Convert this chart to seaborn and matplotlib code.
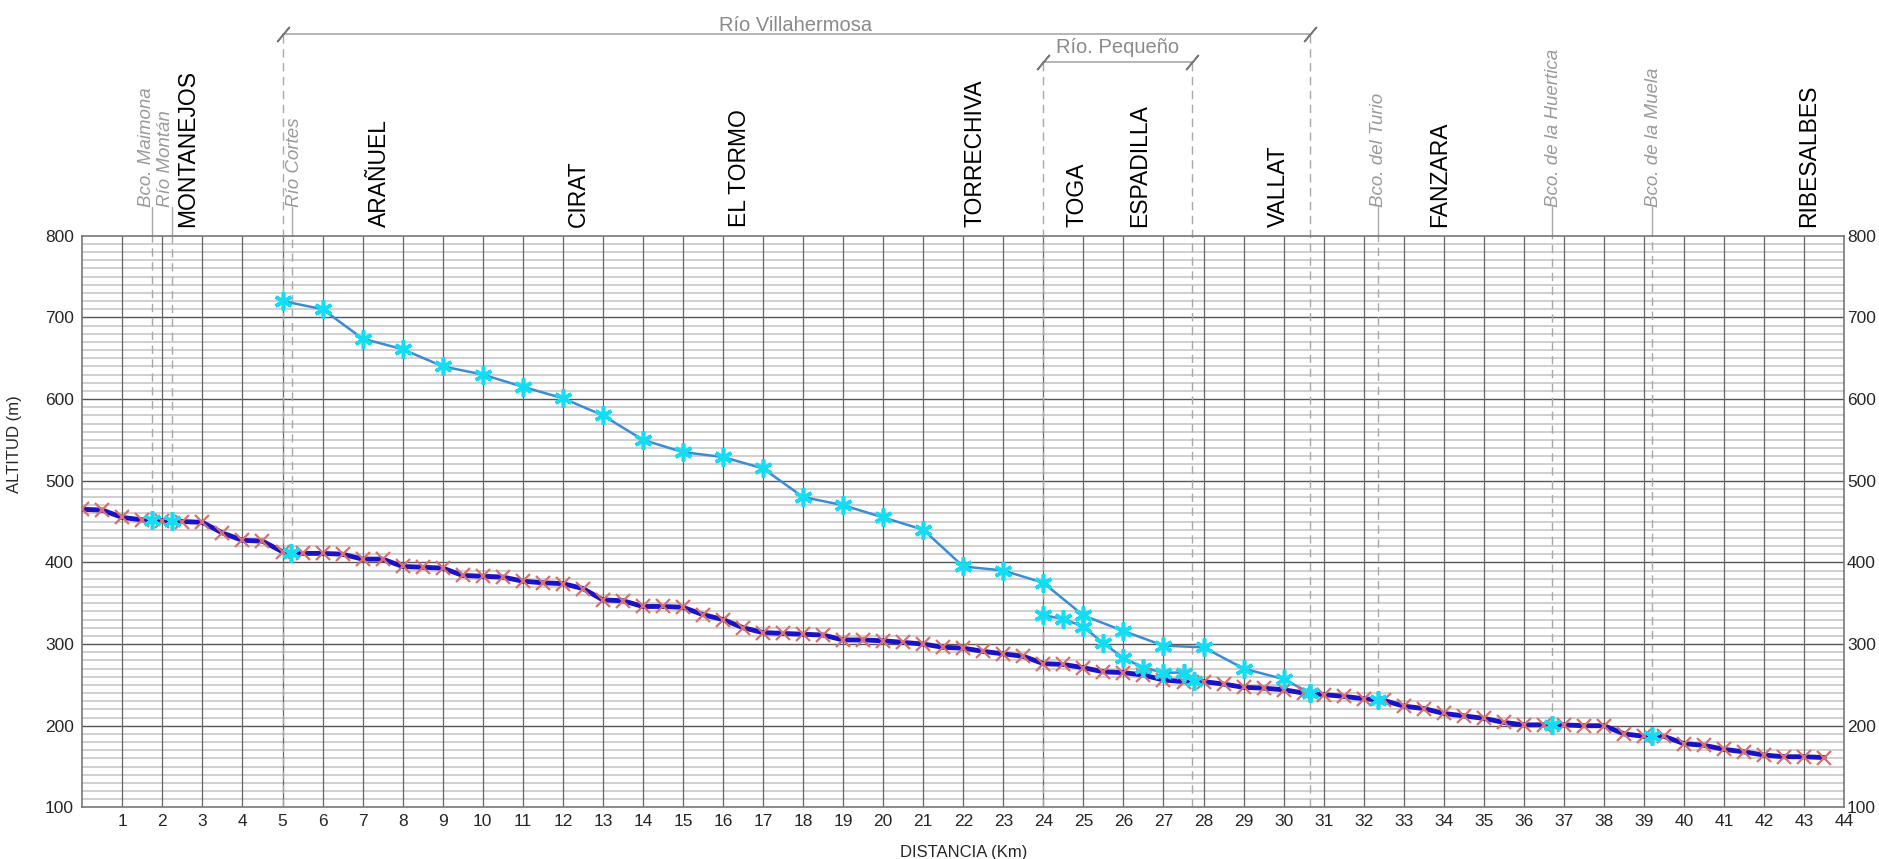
import matplotlib
matplotlib.use('Agg')

import numpy as np
import matplotlib.pyplot as plt
import matplotlib.transforms as mtransforms
import seaborn as sns

# main river (Mijares) profile, every 0.5 km
km_main = [i * 0.5 for i in range(88)]
alt_main = [465, 464, 455, 452, 451, 450, 449, 436, 427, 426,
            413, 411, 411, 410, 404, 404, 395, 394, 393, 384,
            383, 382, 377, 375, 374, 368, 354, 353, 346, 346,
            345, 336, 330, 320, 314, 313, 312, 311, 305, 305,
            304, 302, 300, 296, 295, 291, 288, 285, 276, 275,
            271, 266, 265, 262, 256, 254, 254, 251, 247, 246,
            244, 240, 238, 236, 233, 231, 224, 221, 215, 212,
            209, 204, 201, 201, 201, 200, 200, 190, 187, 187,
            178, 176, 171, 168, 164, 162, 162, 161]

# Río Villahermosa
km_villa = [5, 6, 7, 8, 9, 10, 11, 12, 13, 14, 15, 16, 17, 18, 19,
            20, 21, 22, 23, 24, 25, 26, 27, 28, 29, 30, 30.66]
alt_villa = [720, 710, 674, 661, 640, 630, 615, 601, 580, 550, 535, 529, 515, 480, 470,
             455, 440, 395, 390, 375, 335, 316, 298, 296, 270, 257, 240]

# Río Pequeño
km_peq = [24, 24.5, 25, 25.5, 26, 26.5, 27, 27.5, 27.75]
alt_peq = [335, 331, 321, 301, 283, 271, 265, 265, 255]

# confluences on the main river
km_conf = [1.75, 2.25, 5.2, 27.75, 30.66, 32.35, 36.7, 39.2]
alt_conf = [452, 451, 412, 255, 240, 232, 201, 187]

towns = ['MONTANEJOS', 'ARAÑUEL', 'CIRAT', 'EL TORMO', 'TORRECHIVA',
         'TOGA', 'ESPADILLA', 'VALLAT', 'FANZARA', 'RIBESALBES']
km_towns = [2.64, 7.41, 12.38, 16.4, 22.3, 24.85, 26.4, 29.86, 33.9, 43.1]

tribs = ['Bco. Maimona', 'Río Montán', 'Río Cortes', 'Bco. del Turio',
         'Bco. de la Huertica', 'Bco. de la Muela']
km_tribs = [1.6, 2.08, 5.3, 32.37, 36.73, 39.24]
km_trib_lines = [1.75, 2.25, 5.24, 32.35, 36.7, 39.2]
alt_trib_lines = [452, 451, 412, 232, 201, 187]

y_ticks = list(range(100, 900, 100))

sns.set_style('white')
plt.rcParams['font.family'] = ['Liberation Sans', 'DejaVu Sans']

fig = plt.figure(figsize=(18.79, 8.59), dpi=100)
ax = fig.add_axes([0.0438, 0.0601, 0.9377, 0.6655])

# grid
for y in range(110, 800, 10):
    if y % 100:
        ax.axhline(y, color='#cfcfcf', lw=1.4, zorder=0)
for y in range(200, 800, 100):
    ax.axhline(y, color='#555555', lw=1.0, zorder=0.5)
for x in range(1, 44):
    ax.axvline(x, color='#666666', lw=0.9, zorder=0.5)

gray = '#a8a8a8'
trans = mtransforms.blended_transform_factory(ax.transData, ax.transAxes)

# tributary dashed lines and labels
for k, a in zip(km_trib_lines, alt_trib_lines):
    ax.plot([k, k], [a, 800], color=gray, lw=1, ls=(0, (6, 4)), zorder=0.8)
    ax.plot([k, k], [1.0, 1.05], color=gray, lw=1, transform=trans, clip_on=False)
for name, k in zip(tribs, km_tribs):
    ax.text(k, 1.05, name, rotation=90, ha='center', va='bottom', transform=trans,
            fontsize=13.5, style='italic', color='#9a9a9a')

for name, k in zip(towns, km_towns):
    ax.text(k, 1.015, name, rotation=90, ha='center', va='bottom', transform=trans,
            fontsize=16.5, color='black')

# brackets for the two side rivers
for k0, k1, yb, label, xlab, ylab in [(5, 30.66, 1.352, 'Río Villahermosa', 17.8, 1.368),
                                       (24, 27.7, 1.304, 'Río. Pequeño', 25.85, 1.33)]:
    ax.plot([k0, k1], [yb, yb], color=gray, lw=1.2, transform=trans, clip_on=False)
    ax.plot([k0, k1], [yb, yb], ls='none', marker=(2, 2, -40), ms=14, mew=1.2,
            color='#777777', transform=trans, clip_on=False)
    for k in (k0, k1):
        ax.plot([k, k], [0.0, yb], color=gray, lw=1, ls=(0, (6, 4)),
                transform=trans, clip_on=False, zorder=0.8)
    ax.text(xlab, ylab, label, ha='center', va='center', transform=trans,
            fontsize=14.5, color='#8a8a8a')

# profiles
sns.lineplot(x=km_villa, y=alt_villa, ax=ax, color='#3a8cd6', lw=1.8, zorder=3)
sns.lineplot(x=km_peq, y=alt_peq, ax=ax, color='#3a8cd6', lw=1.8, zorder=3)
sns.lineplot(x=km_main, y=alt_main, ax=ax, color='#1a12c6', lw=3.5, zorder=4,
             marker='x', markersize=10, markeredgecolor='#d8706c', mew=1.6)
ax.plot(km_villa, alt_villa, ls='none', marker=(6, 2, 0), ms=13, mew=2.6,
        color='#14dcf2', zorder=5)
ax.plot(km_peq[:-1], alt_peq[:-1], ls='none', marker=(6, 2, 0), ms=13, mew=2.6,
        color='#14dcf2', zorder=5)
ax.plot(km_conf, alt_conf, ls='none', marker=(6, 2, 0), ms=13, mew=2.6,
        color='#14dcf2', zorder=5)

ax.set_xlim(0, 44)
ax.set_ylim(100, 800)
ax.set_xticks(range(1, 45))
ax.set_xticklabels([str(i) for i in range(1, 45)])
ax.set_yticks(y_ticks)
ax.tick_params(axis='both', length=0, labelsize=12.5)
ax.tick_params(axis='x', pad=5)
ax.tick_params(axis='y', pad=6)
for s in ax.spines.values():
    s.set_color('#777777')
    s.set_linewidth(1.2)

# right-hand altitude labels
ax2 = ax.twinx()
ax2.set_ylim(100, 800)
ax2.set_yticks(y_ticks)
ax2.tick_params(axis='y', length=0, labelsize=12.5, pad=2)
for s in ax2.spines.values():
    s.set_visible(False)

ax.set_xlabel('DISTANCIA (Km)', fontsize=12)
ax.xaxis.set_label_coords(0.5, -0.065)
ax.set_ylabel('ALTITUD (m)', fontsize=12)
ax.yaxis.set_label_coords(-0.034, 0.635)

fig.savefig('out.png', dpi=100)
